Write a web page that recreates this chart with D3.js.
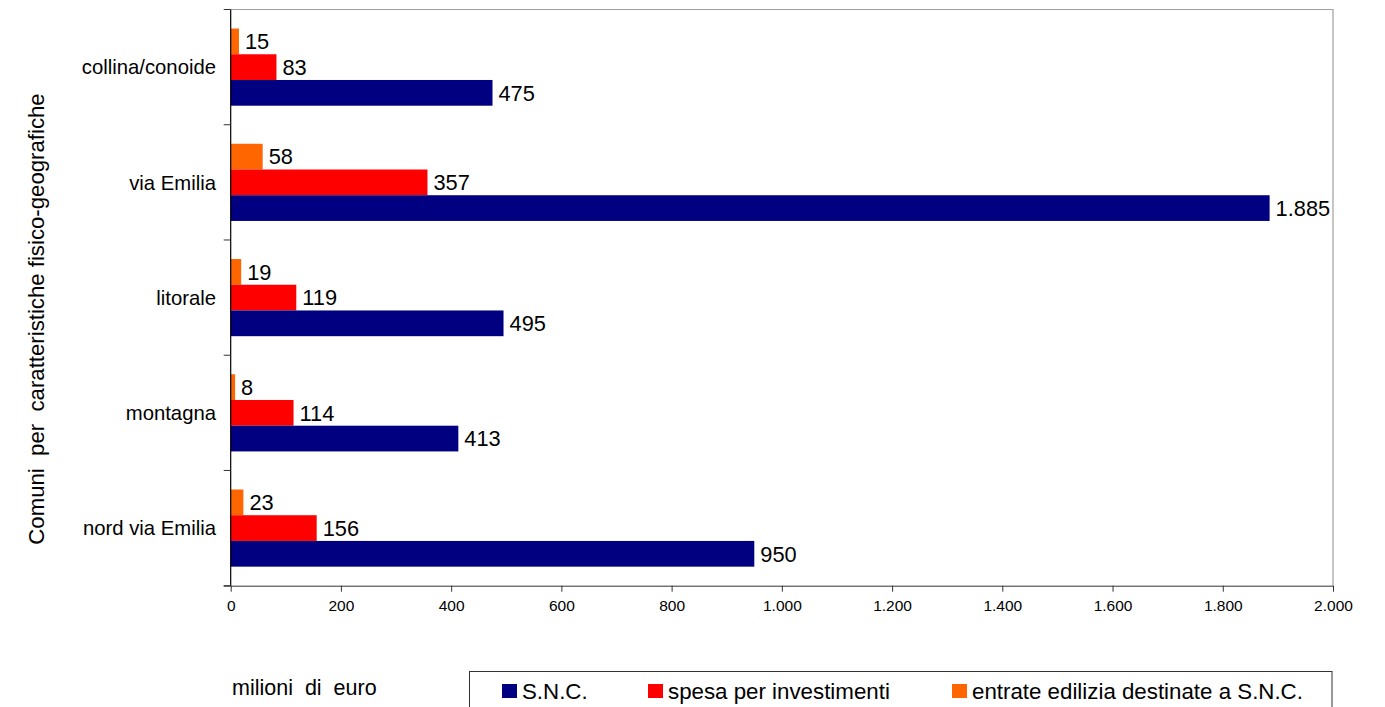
<!DOCTYPE html>
<html>
<head>
<meta charset="utf-8">
<script src="https://cdn.jsdelivr.net/npm/d3@7"></script>
<style>
  html, body { margin: 0; padding: 0; background: #fff; }
  svg { display: block; font-family: "Liberation Sans", Arial, sans-serif; }
  text { white-space: pre; }
</style>
</head>
<body>
<svg id="chart" width="1385" height="707"></svg>
<script>
// Categories (top to bottom) and the three series, in millions of euro
const categories = ["collina/conoide", "via Emilia", "litorale", "montagna", "nord via Emilia"];
const entrateEdilizia = [15, 58, 19, 8, 23];
const spesaInvestimenti = [83, 357, 119, 114, 156];
const snc = [475, 1885, 495, 413, 950];
const xTicks = [0, 200, 400, 600, 800, 1000, 1200, 1400, 1600, 1800, 2000];

const seriesNames = ["S.N.C.", "spesa per investimenti", "entrate edilizia destinate a S.N.C."];
const colors = { snc: "#000080", spesa: "#ff0000", entrate: "#ff6600" };

const svg = d3.select("#chart");
const plotLeft = 230.7, plotRight = 1333, plotTop = 9.5, plotBottom = 585.7;

const x = d3.scaleLinear().domain([0, 2000]).range([plotLeft, plotRight]);
const y = d3.scaleBand().domain(categories).range([plotTop, plotBottom]);
// within each category: orange, red, blue from top to bottom
const inner = d3.scaleBand().domain(["entrate", "spesa", "snc"])
  .range([0, y.bandwidth()]).paddingOuter(0.74).paddingInner(0);

const fmt = v => d3.format(",")(v).replace(/,/g, ".");

// frame (top and right edges)
svg.append("path")
  .attr("d", `M${plotLeft},${plotTop}H${plotRight}V${plotBottom}`)
  .attr("fill", "none").attr("stroke", "#a0a0a0").attr("stroke-width", 1.2);

// bars
const rows = categories.map((c, i) => ({
  cat: c,
  vals: [
    { key: "entrate", v: entrateEdilizia[i] },
    { key: "spesa", v: spesaInvestimenti[i] },
    { key: "snc", v: snc[i] }
  ]
}));

const g = svg.append("g").selectAll("g").data(rows).join("g")
  .attr("transform", d => `translate(0,${y(d.cat)})`);

g.selectAll("rect").data(d => d.vals).join("rect")
  .attr("x", x(0))
  .attr("y", d => inner(d.key))
  .attr("width", d => x(d.v) - x(0))
  .attr("height", inner.bandwidth())
  .attr("fill", d => colors[d.key]);

g.selectAll("text.val").data(d => d.vals).join("text")
  .attr("class", "val")
  .attr("x", d => x(d.v) + 6)
  .attr("y", d => inner(d.key) + inner.bandwidth() / 2)
  .attr("dy", "0.36em")
  .attr("font-size", 21.8)
  .attr("fill", "#000")
  .text(d => fmt(d.v));

// x axis
const xAxis = svg.append("g").attr("transform", `translate(0,${plotBottom})`)
  .call(d3.axisBottom(x).tickValues(xTicks).tickSize(6).tickSizeOuter(0).tickFormat(fmt));
xAxis.select(".domain").attr("stroke", "#333").attr("d", `M${plotLeft - 7},0.5H${plotRight}`);
xAxis.selectAll(".tick line").attr("stroke", "#333");
xAxis.selectAll(".tick text").attr("font-size", 15.5).attr("font-family", "Liberation Sans, Arial, sans-serif")
  .attr("fill", "#000").attr("y", 14);

// y axis: separator ticks at category boundaries
const bounds = categories.map(c => y(c)).concat([plotBottom]);
svg.append("line").attr("x1", plotLeft).attr("x2", plotLeft).attr("y1", plotTop).attr("y2", plotBottom)
  .attr("stroke", "#000").attr("stroke-width", 1.2);
svg.append("g").selectAll("line").data(bounds).join("line")
  .attr("x1", plotLeft - 7).attr("x2", plotLeft).attr("y1", d => d).attr("y2", d => d)
  .attr("stroke", "#333");

// category labels
svg.append("g").selectAll("text").data(categories).join("text")
  .attr("x", 216)
  .attr("y", d => y(d) + y.bandwidth() / 2)
  .attr("dy", "0.36em")
  .attr("text-anchor", "end")
  .attr("font-size", 20.3)
  .text(d => d);

// axis titles
svg.append("text")
  .attr("transform", "translate(44,319) rotate(-90)")
  .attr("text-anchor", "middle")
  .attr("font-size", 22.2)
  .text("Comuni  per  caratteristiche fisico-geografiche");

svg.append("text")
  .attr("x", 232).attr("y", 695)
  .attr("font-size", 21.5)
  .text("milioni  di  euro");

// legend
svg.append("rect").attr("x", 469.5).attr("y", 671.5).attr("width", 862.5).attr("height", 60)
  .attr("fill", "#fff").attr("stroke", "#333").attr("stroke-width", 1);
const legendKeys = ["snc", "spesa", "entrate"];
const legendX = [502, 648, 952];
const lg = svg.append("g").selectAll("g").data(legendKeys).join("g")
  .attr("transform", (d, i) => `translate(${legendX[i]},684)`);
lg.append("rect").attr("width", 15).attr("height", 14).attr("fill", d => colors[d]);
lg.append("text").attr("x", 20).attr("y", 7).attr("dy", "0.36em")
  .attr("font-size", 22.3)
  .text((d, i) => seriesNames[i]);
</script>
</body>
</html>
